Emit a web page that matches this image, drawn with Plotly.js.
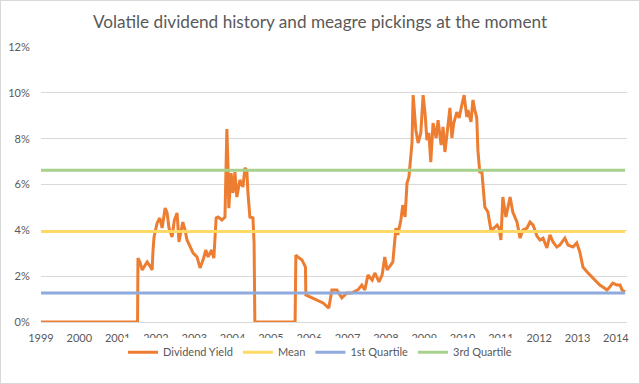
<!DOCTYPE html>
<html>
<head>
<meta charset="utf-8">
<script src="https://cdn.plot.ly/plotly-3.0.1.min.js"></script>
<style>
  html, body { margin: 0; padding: 0; background: #fff; }
  #wrap { position: relative; width: 640px; height: 384px; }
  #frame { position: absolute; left: 0; top: 0; width: 640px; height: 384px; box-sizing: border-box; border: 1px solid #d9d9d9; pointer-events: none; z-index: 10; }
</style>
</head>
<body>
<div id="wrap">
  <div id="plot" style="width:640px;height:384px;"></div>
  <div id="frame"></div>
</div>
<script>
// Dividend yield (%) against time (decimal years)
const years = [
  1999.00, 2001.52, 2001.53, 2001.58, 2001.64, 2001.70, 2001.77, 2001.84, 2001.90, 2001.92,
  2001.95, 2002.03, 2002.10, 2002.16, 2002.24, 2002.29, 2002.34, 2002.42, 2002.48, 2002.55,
  2002.60, 2002.70, 2002.76, 2002.81, 2002.89, 2002.97, 2003.07, 2003.15, 2003.23, 2003.30,
  2003.36, 2003.45, 2003.51, 2003.57, 2003.62, 2003.72, 2003.80, 2003.85, 2003.88, 2003.90,
  2003.96, 2004.01, 2004.06, 2004.11, 2004.19, 2004.27, 2004.32, 2004.37, 2004.40, 2004.45,
  2004.53, 2004.56, 2004.58, 2005.63, 2005.65, 2005.70, 2005.81, 2005.86, 2005.90, 2005.91,
  2006.02, 2006.20, 2006.36, 2006.51, 2006.59, 2006.72, 2006.85, 2006.98, 2007.11, 2007.27,
  2007.37, 2007.45, 2007.53, 2007.64, 2007.71, 2007.82, 2007.90, 2007.97, 2008.03, 2008.11,
  2008.18, 2008.26, 2008.31, 2008.39, 2008.44, 2008.50, 2008.55, 2008.60, 2008.68, 2008.71,
  2008.78, 2008.84, 2008.91, 2008.97, 2009.02, 2009.07, 2009.12, 2009.17, 2009.23, 2009.31,
  2009.36, 2009.44, 2009.49, 2009.54, 2009.62, 2009.67, 2009.72, 2009.77, 2009.85, 2009.91,
  2009.98, 2010.04, 2010.11, 2010.14, 2010.22, 2010.27, 2010.32, 2010.37, 2010.40, 2010.45,
  2010.50, 2010.53, 2010.58, 2010.66, 2010.74, 2010.82, 2010.90, 2010.95, 2011.00, 2011.05,
  2011.13, 2011.24, 2011.31, 2011.42, 2011.50, 2011.57, 2011.68, 2011.76, 2011.84, 2011.94,
  2012.02, 2012.10, 2012.15, 2012.20, 2012.28, 2012.36, 2012.46, 2012.54, 2012.67, 2012.75,
  2012.88, 2012.98, 2013.06, 2013.14, 2013.25, 2013.38, 2013.51, 2013.58, 2013.66, 2013.77,
  2013.84, 2013.92, 2014.03, 2014.11, 2014.16, 2014.24
];
const dividendYield = [
  0, 0, 2.79, 2.62, 2.27, 2.45, 2.62, 2.45, 2.27, 3.05,
  3.71, 4.32, 4.54, 4.10, 4.97, 4.76, 4.10, 3.71, 4.45, 4.76,
  3.49, 4.36, 4.01, 3.58, 3.27, 3.01, 2.84, 2.36, 2.71, 3.14,
  2.84, 3.14, 2.79, 4.54, 4.58, 4.45, 4.58, 8.42, 6.76, 4.97,
  6.50, 5.63, 6.54, 5.45, 6.20, 5.89, 6.72, 6.63, 5.63, 4.58,
  4.54, 3.45, 0, 0, 2.92, 2.84, 2.71, 2.49, 2.40, 1.18,
  1.09, 0.96, 0.83, 0.61, 1.40, 1.40, 1.05, 1.27, 1.27, 1.40,
  1.61, 1.40, 2.05, 1.83, 2.14, 1.75, 2.05, 2.84, 2.27, 2.45,
  2.62, 4.10, 3.80, 4.45, 5.10, 4.58, 6.06, 6.33, 7.81, 9.90,
  8.38, 7.81, 8.25, 9.90, 9.12, 7.94, 8.25, 6.98, 8.68, 8.03,
  8.81, 7.72, 8.51, 7.42, 8.60, 9.34, 8.03, 8.68, 9.16, 8.90,
  9.47, 9.90, 8.94, 9.25, 8.73, 9.69, 9.25, 8.90, 7.50, 6.50,
  6.63, 5.89, 5.02, 4.80, 4.01, 4.10, 4.23, 4.10, 3.58, 5.45,
  4.58, 5.45, 4.80, 4.36, 3.66, 4.01, 4.10, 4.36, 4.23, 3.75,
  3.58, 3.66, 3.45, 3.23, 3.80, 3.49, 3.27, 3.36, 3.66, 3.36,
  3.27, 3.45, 3.05, 2.40, 2.18, 1.96, 1.75, 1.61, 1.53, 1.40,
  1.53, 1.70, 1.61, 1.61, 1.40, 1.31
];
const meanYield = 3.95;
const firstQuartile = 1.27;
const thirdQuartile = 6.62;
const yearTicks = [1999, 2000, 2001, 2002, 2003, 2004, 2005, 2006, 2007, 2008, 2009, 2010, 2011, 2012, 2013, 2014];
const yTicks = [0, 2, 4, 6, 8, 10, 12];

const span = [years[0], years[years.length - 1]];
const FONT = 'Lato, "Open Sans", sans-serif';
const GREY = '#595959';

const traces = [
  { x: years, y: dividendYield, name: 'Dividend Yield', type: 'scatter', mode: 'lines',
    line: { color: '#ED7D31', width: 3 } },
  { x: span, y: [meanYield, meanYield], name: 'Mean', type: 'scatter', mode: 'lines',
    line: { color: '#FFD966', width: 3 } },
  { x: span, y: [firstQuartile, firstQuartile], name: '1st Quartile', type: 'scatter', mode: 'lines',
    line: { color: '#8FAADC', width: 3 } },
  { x: span, y: [thirdQuartile, thirdQuartile], name: '3rd Quartile', type: 'scatter', mode: 'lines',
    line: { color: '#A9D18E', width: 3 } }
];

const layout = {
  width: 640, height: 384,
  margin: { l: 41, r: 13, t: 47, b: 62, autoexpand: false },
  paper_bgcolor: '#ffffff', plot_bgcolor: '#ffffff',
  font: { family: FONT, size: 11, color: GREY },
  title: { text: 'Volatile dividend history and meagre pickings at the moment',
    font: { family: FONT, size: 17.2, color: GREY },
    x: 0.5, xanchor: 'center', xref: 'container', y: 0.943, yanchor: 'middle', yref: 'container' },
  xaxis: { type: 'linear', range: [1999, 2014.29], tickvals: yearTicks, ticktext: yearTicks.map(String),
    showgrid: false, zeroline: false, showline: true, linecolor: '#d9d9d9', linewidth: 1,
    ticks: 'outside', ticklen: 6, tickcolor: 'rgba(0,0,0,0)',
    tickfont: { family: FONT, size: 11, color: GREY }, fixedrange: true },
  yaxis: { range: [0, 12], tickvals: yTicks, ticktext: yTicks.map(v => v + '%'),
    showgrid: true, gridcolor: '#d9d9d9', gridwidth: 1,
    zeroline: false, showline: false, ticks: 'outside', ticklen: 8, tickcolor: 'rgba(0,0,0,0)',
    tickfont: { family: FONT, size: 11, color: GREY }, fixedrange: true },
  showlegend: true,
  legend: { orientation: 'h', x: 0.5, xanchor: 'center', xref: 'container', y: 0.083, yanchor: 'middle', yref: 'container',
    font: { family: FONT, size: 11, color: GREY }, itemwidth: 30, traceorder: 'normal' },
  hovermode: false
};

Plotly.newPlot('plot', traces, layout, { displayModeBar: false, staticPlot: true });
</script>
</body>
</html>
